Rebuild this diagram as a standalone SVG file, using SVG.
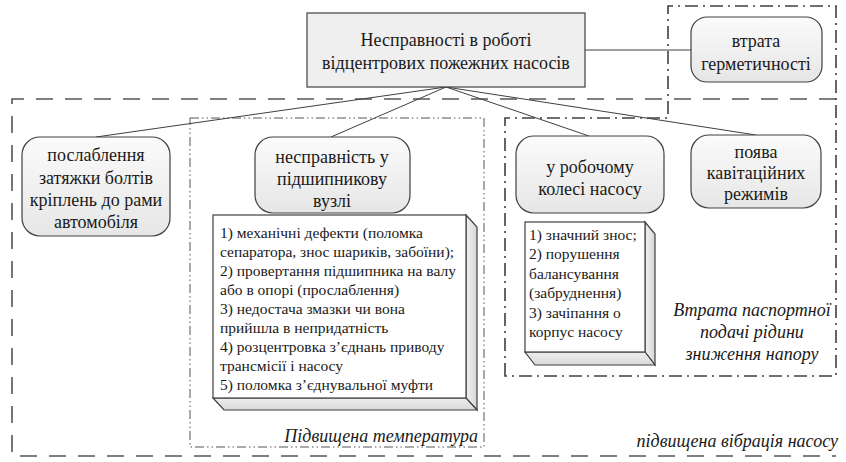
<svg xmlns="http://www.w3.org/2000/svg" width="846" height="462" viewBox="0 0 846 462" font-family="Liberation Serif, Times New Roman, serif">
<defs>
<linearGradient id="ng" x1="0" y1="0" x2="0" y2="1">
<stop offset="0" stop-color="#fbfbfb"/><stop offset="1" stop-color="#e6e6e6"/>
</linearGradient>
<linearGradient id="sg" x1="0" y1="0" x2="1" y2="0">
<stop offset="0" stop-color="#f2f2f2"/><stop offset="1" stop-color="#d6d6d6"/>
</linearGradient>
<linearGradient id="bg" x1="0" y1="0" x2="0" y2="1">
<stop offset="0" stop-color="#eeeeee"/><stop offset="1" stop-color="#d8d8d8"/>
</linearGradient>
</defs>
<style>
.node{fill:url(#ng);stroke:#404040;stroke-width:1.2}
.main{fill:#efefef;stroke:#404040;stroke-width:1.2}
.front{fill:#ffffff;stroke:#404040;stroke-width:1.2}
.side{fill:url(#sg);stroke:#404040;stroke-width:1.2}
.bot{fill:url(#bg);stroke:#404040;stroke-width:1.2}
.t{font-size:18px;text-anchor:middle;fill:#1a1a1a}
.s{font-size:15.5px;fill:#1a1a1a}
.i{font-size:18px;font-style:italic;fill:#1a1a1a}
.con{stroke:#404040;stroke-width:1;fill:none}
.ldash{fill:none;stroke:#555;stroke-width:1.6;stroke-dasharray:17 12}
.dd{fill:none;stroke:#404040;stroke-width:1.6;stroke-dasharray:13 5 2 5}
.ddd{fill:none;stroke:#555;stroke-width:1;stroke-dasharray:9 3 1.5 3 1.5 3}
</style>

<g id="groups">
<path class="ldash" d="M836,99 H12 V456 H836"/>
<path class="dd" d="M505,376 V118 H668 V6 H836 V376 Z"/>
<rect class="ddd" x="190" y="118" width="294" height="329"/>
<text class="i" x="478" y="442" text-anchor="end">Підвищена температура</text>
<text class="i" x="838" y="447" text-anchor="end">підвищена вібрація насосу</text>
<text class="i" x="752" y="316" text-anchor="middle">Втрата паспортної</text>
<text class="i" x="752" y="338" text-anchor="middle">подачі рідини</text>
<text class="i" x="752" y="360" text-anchor="middle">зниження напору</text>
</g>

<g id="connectors">
<line class="con" x1="585" y1="50" x2="691" y2="50"/>
<line class="con" x1="446" y1="87" x2="96" y2="137"/>
<line class="con" x1="446" y1="87" x2="331" y2="137"/>
<line class="con" x1="446" y1="87" x2="589" y2="136"/>
<line class="con" x1="446" y1="87" x2="756" y2="135"/>
</g>

<g id="main">
<rect class="main" x="307" y="13" width="278" height="74"/>
<text class="t" x="446" y="46">Несправності в роботі</text>
<text class="t" x="446" y="69">відцентрових пожежних насосів</text>
</g>

<g id="hermetic">
<rect class="node" x="691" y="17" width="131" height="65" rx="16"/>
<text class="t" x="756" y="47">втрата</text>
<text class="t" x="756" y="70">герметичності</text>
</g>

<g id="bolts">
<rect class="node" x="22" y="137" width="148" height="99" rx="18"/>
<text class="t" x="96" y="161">послаблення</text>
<text class="t" x="96" y="184">затяжки болтів</text>
<text class="t" x="96" y="206">кріплень до рами</text>
<text class="t" x="96" y="228">автомобіля</text>
</g>

<g id="bearing">
<rect class="node" x="255" y="137" width="155" height="76" rx="18"/>
<text class="t" x="332" y="163">несправність у</text>
<text class="t" x="332" y="185">підшипникову</text>
<text class="t" x="332" y="207">вузлі</text>
</g>

<g id="bearing-list">
<polygon class="side" points="466,215 477,227 477,410 466,398"/>
<polygon class="bot" points="213,398 466,398 477,410 224,410"/>
<rect class="front" x="213" y="215" width="253" height="183"/>
<text class="s" x="220" y="238">1) механічні дефекти (поломка</text>
<text class="s" x="220" y="257">сепаратора, знос шариків, забоїни);</text>
<text class="s" x="220" y="276">2) провертання підшипника на валу</text>
<text class="s" x="220" y="295">або в опорі (прослаблення)</text>
<text class="s" x="220" y="314">3) недостача змазки чи вона</text>
<text class="s" x="220" y="333">прийшла в непридатність</text>
<text class="s" x="220" y="352">4) розцентровка з’єднань приводу</text>
<text class="s" x="220" y="371">трансмісії і насосу</text>
<text class="s" x="220" y="390">5) поломка з’єднувальної муфти</text>
</g>

<g id="wheel">
<rect class="node" x="516" y="136" width="148" height="77" rx="18"/>
<text class="t" x="590" y="173">у робочому</text>
<text class="t" x="590" y="195">колесі насосу</text>
</g>

<g id="wheel-list">
<polygon class="side" points="645,222 655,234 655,365 645,352"/>
<polygon class="bot" points="525,352 645,352 655,365 535,365"/>
<rect class="front" x="525" y="222" width="120" height="130"/>
<text class="s" x="529" y="240">1) значний знос;</text>
<text class="s" x="529" y="259">2) порушення</text>
<text class="s" x="529" y="279">балансування</text>
<text class="s" x="529" y="298">(забруднення)</text>
<text class="s" x="529" y="318">3) зачіпання о</text>
<text class="s" x="529" y="337">корпус насосу</text>
</g>

<g id="cavitation">
<rect class="node" x="691" y="135" width="130" height="73" rx="18"/>
<text class="t" x="756" y="158">поява</text>
<text class="t" x="756" y="179">кавітаційних</text>
<text class="t" x="756" y="200">режимів</text>
</g>
</svg>
